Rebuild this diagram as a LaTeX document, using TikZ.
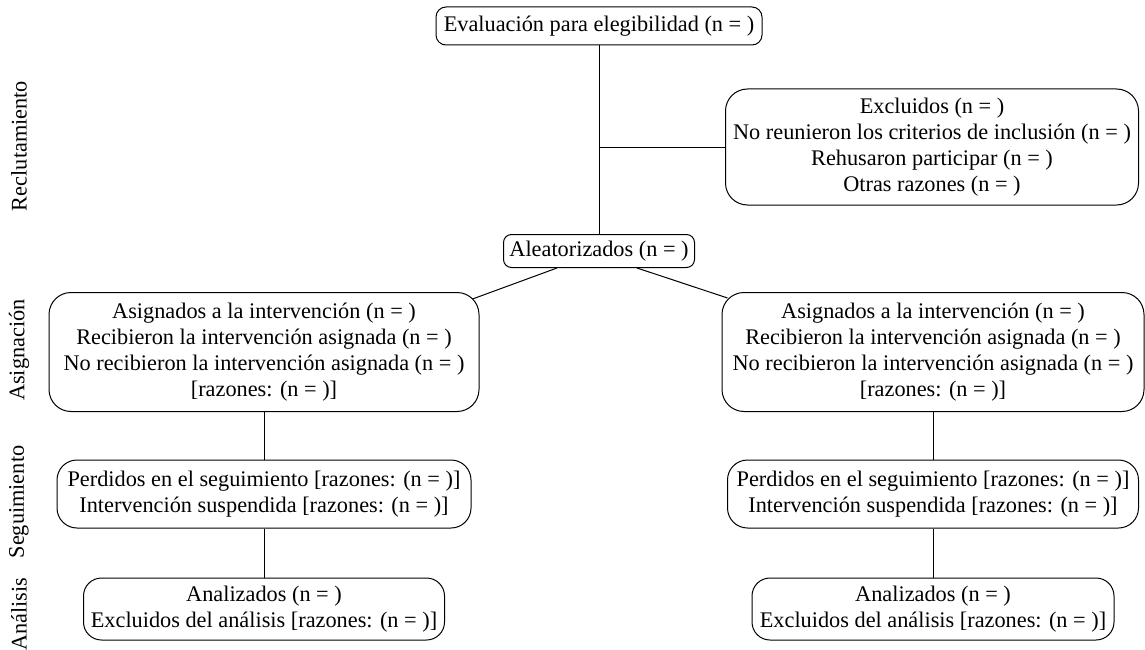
\documentclass[tikz,border=0pt]{standalone}
\usepackage{fontspec}
\setmainfont{Liberation Serif}
\usetikzlibrary{calc}
\begin{document}
\begin{tikzpicture}[x=1pt,y=-1pt,
  box/.style={draw,line width=1pt,align=center,inner sep=0pt,font=\fontsize{22.3}{26}\selectfont},
  lbl/.style={rotate=90,font=\fontsize{22.3}{26}\selectfont,inner sep=0pt},
  conn/.style={line width=1pt}]
\useasboundingbox (0,0) rectangle (1145,650);
% stage labels
\node[lbl] (l1) at (19,146) {Reclutamiento};
\node[lbl] (l2) at (19,350) {Asignación};
\node[lbl] (l3) at (19,502) {Seguimiento};
\node[lbl] (l4) at (19,614) {Análisis};
% boxes
\node[box,rounded corners=10pt,minimum width=326pt,minimum height=38pt] (top) at (599,26) {Evaluación para elegibilidad (n = )};
\node[box,rounded corners=22pt,minimum width=413pt,minimum height=116pt] (excl) at (932,147) {Excluidos (n = )\\No reunieron los criterios de inclusión (n = )\\Rehusaron participar (n = )\\Otras razones (n = )};
\node[box,rounded corners=8pt,minimum width=191pt,minimum height=33pt] (alea) at (599,251) {Aleatorizados (n = )};
\node[box,rounded corners=22pt,minimum width=430pt,minimum height=119pt] (asgL) at (264,352) {Asignados a la intervención (n = )\\Recibieron la intervención asignada (n = )\\No recibieron la intervención asignada (n = )\\{[}razones: (n = )]};
\node[box,rounded corners=22pt,minimum width=422pt,minimum height=119pt] (asgR) at (933,352) {Asignados a la intervención (n = )\\Recibieron la intervención asignada (n = )\\No recibieron la intervención asignada (n = )\\{[}razones: (n = )]};
\node[box,rounded corners=20pt,minimum width=414pt,minimum height=68pt] (segL) at (264,494) {Perdidos en el seguimiento [razones: (n = )]\\Intervención suspendida [razones: (n = )]};
\node[box,rounded corners=20pt,minimum width=411pt,minimum height=68pt] (segR) at (933,494) {Perdidos en el seguimiento [razones: (n = )]\\Intervención suspendida [razones: (n = )]};
\node[box,rounded corners=18pt,minimum width=361pt,minimum height=62pt] (anaL) at (264,609) {Analizados (n = )\\Excluidos del análisis [razones: (n = )]};
\node[box,rounded corners=18pt,minimum width=362pt,minimum height=62pt] (anaR) at (933,609) {Analizados (n = )\\Excluidos del análisis [razones: (n = )]};
% connectors
\coordinate (j) at (top.south |- excl.west);
\draw[conn] (top.south) -- (alea.north);
\draw[conn] (j) -- (excl.west);
\draw[conn] ($(alea.south)+(-42,0)$) -- ($(asgL.north east)+(-7,7)$);
\draw[conn] ($(alea.south)+(38,0)$) -- ($(asgR.north west)+(6,6)$);
\draw[conn] (asgL.south) -- (segL.north);
\draw[conn] (segL.south) -- (anaL.north);
\draw[conn] (asgR.south) -- (segR.north);
\draw[conn] (segR.south) -- (anaR.north);
\end{tikzpicture}
\end{document}
